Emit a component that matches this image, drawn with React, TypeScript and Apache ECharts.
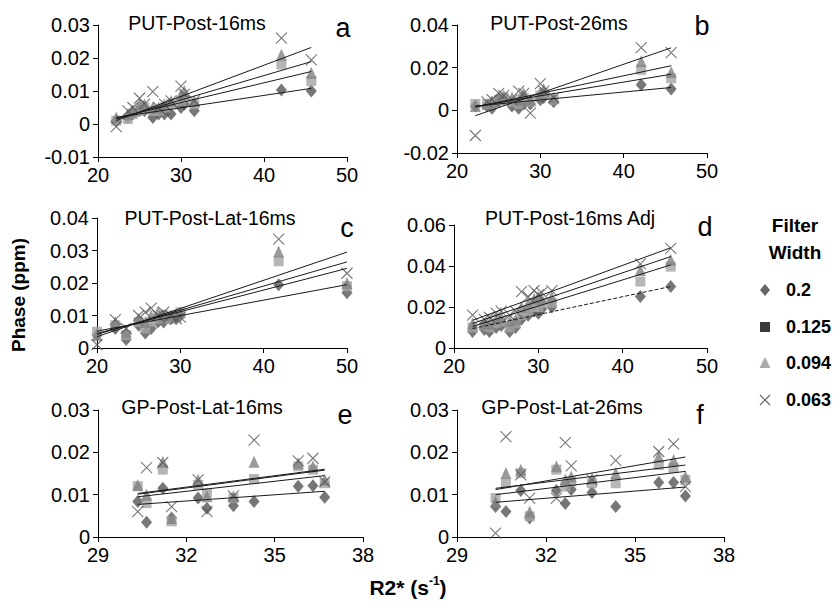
import React, { useEffect, useRef } from "react";
import * as echarts from "echarts";

const FONT = '"Liberation Sans", Arial, Helvetica, sans-serif';

// ---------- data ----------
const seriesNames = ["0.2", "0.125", "0.094", "0.063"];
const panelTitles = ["PUT-Post-16ms", "PUT-Post-26ms", "PUT-Post-Lat-16ms", "PUT-Post-16ms Adj", "GP-Post-Lat-16ms", "GP-Post-Lat-26ms"];
const panelLetters = ["a", "b", "c", "d", "e", "f"];

// Panel a
const aX = [22.2, 23.6, 24.2, 25.0, 25.6, 26.6, 27.3, 28.0, 28.8, 30.0, 30.4, 31.6, 42.1, 45.7];
const aDiamond = [0.001, 0.002, 0.003, 0.004, 0.004, 0.002, 0.003, 0.003, 0.003, 0.005, 0.006, 0.004, 0.0103, 0.0100];
const aSquare = [0.001, 0.0015, 0.003, 0.004, 0.005, 0.004, 0.004, 0.005, 0.006, 0.007, 0.008, 0.006, 0.018, 0.013];
const aTriangle = [0.002, 0.003, 0.004, 0.006, 0.006, 0.005, 0.005, 0.006, 0.007, 0.009, 0.010, 0.007, 0.021, 0.0155];
const aCross = [-0.0008, 0.004, 0.005, 0.0078, 0.006, 0.0098, 0.005, 0.006, 0.007, 0.0115, 0.009, 0.007, 0.026, 0.0194];
const aTrend = [[22.2, 0.0020, 45.7, 0.0108], [22.2, 0.0018, 45.7, 0.0159], [22.2, 0.0015, 45.7, 0.0189], [22.2, 0.0010, 45.7, 0.0232]];

// Panel b
const bX = [22.2, 23.6, 24.2, 25.0, 25.6, 26.6, 27.4, 28.0, 28.8, 30.0, 30.4, 31.6, 42.1, 45.7];
const bDiamond = [0.002, 0.002, 0.001, 0.004, 0.005, 0.002, 0.001, 0.003, 0.003, 0.005, 0.006, 0.004, 0.012, 0.010];
const bSquare = [0.003, 0.003, 0.003, 0.005, 0.006, 0.004, 0.003, 0.006, 0.004, 0.007, 0.008, 0.005, 0.019, 0.015];
const bTriangle = [0.002, 0.003, 0.004, 0.006, 0.007, 0.006, 0.005, 0.008, 0.005, 0.008, 0.010, 0.006, 0.023, 0.018];
const bCross = [-0.0118, 0.004, 0.005, 0.008, 0.007, 0.005, 0.009, 0.008, -0.0013, 0.0125, 0.009, 0.006, 0.0294, 0.027];
const bTrend = [[22.2, 0.0020, 45.7, 0.0107], [22.2, 0.0018, 45.7, 0.0169], [22.2, 0.0015, 45.7, 0.0209], [22.2, -0.0025, 45.7, 0.0293]];

// Panel c
const cX = [20.0, 22.2, 23.5, 25.0, 25.8, 26.5, 27.3, 28.0, 28.8, 29.5, 30.0, 41.8, 50.0];
const cDiamond = [0.004, 0.006, 0.0026, 0.007, 0.0046, 0.006, 0.008, 0.008, 0.009, 0.009, 0.010, 0.0195, 0.017];
const cSquare = [0.005, 0.007, 0.004, 0.008, 0.006, 0.008, 0.009, 0.010, 0.009, 0.010, 0.011, 0.0267, 0.019];
const cTriangle = [0.004, 0.008, 0.005, 0.009, 0.008, 0.010, 0.011, 0.010, 0.010, 0.010, 0.011, 0.0297, 0.020];
const cCross = [0.001, 0.0087, 0.006, 0.010, 0.011, 0.0123, 0.010, 0.011, 0.010, 0.009, 0.0095, 0.0335, 0.023];
const cTrend = [[20, 0.0052, 50, 0.0195], [20, 0.0045, 50, 0.0245], [20, 0.0042, 50, 0.0265], [20, 0.0035, 50, 0.0295]];

// Panel d
const dX = [22.2, 23.6, 24.2, 25.0, 25.6, 26.6, 27.3, 28.0, 28.8, 29.5, 30.0, 30.4, 31.6, 42.1, 45.7];
const dDiamond = [0.008, 0.009, 0.008, 0.010, 0.011, 0.008, 0.010, 0.014, 0.016, 0.018, 0.017, 0.019, 0.020, 0.0251, 0.030];
const dSquare = [0.010, 0.011, 0.010, 0.012, 0.013, 0.010, 0.012, 0.016, 0.018, 0.020, 0.020, 0.022, 0.022, 0.0324, 0.0397];
const dTriangle = [0.012, 0.012, 0.012, 0.014, 0.015, 0.013, 0.014, 0.020, 0.022, 0.024, 0.025, 0.024, 0.025, 0.038, 0.043];
const dCross = [0.016, 0.014, 0.015, 0.017, 0.018, 0.016, 0.018, 0.0275, 0.025, 0.028, 0.026, 0.027, 0.028, 0.041, 0.0486];
const dTrend = [[22.2, 0.0095, 45.7, 0.0300], [22.2, 0.0105, 45.7, 0.0405], [22.2, 0.0120, 45.7, 0.0446], [22.2, 0.0135, 45.7, 0.0489]];

// Panel e
const eX = [30.35, 30.65, 31.2, 31.5, 32.4, 32.7, 33.6, 34.3, 35.8, 36.3, 36.7];
const eDiamond = [0.0084, 0.0035, 0.0115, 0.0045, 0.0092, 0.0068, 0.0074, 0.0084, 0.0120, 0.0121, 0.0094];
const eSquare = [0.0120, 0.0080, 0.0159, 0.0037, 0.0123, 0.0104, 0.0092, 0.0137, 0.0167, 0.0159, 0.0127];
const eTriangle = [0.0123, 0.0100, 0.0178, 0.0045, 0.0135, 0.0096, 0.0096, 0.0178, 0.0174, 0.0167, 0.0135];
const eCross = [0.0060, 0.0164, 0.0176, 0.0072, 0.0135, 0.0060, 0.0097, 0.0229, 0.0180, 0.0186, 0.0130];
const eTrend = [[30.35, 0.0077, 36.7, 0.0108], [30.35, 0.0095, 36.7, 0.0145], [30.35, 0.0101, 36.7, 0.0158], [30.35, 0.0103, 36.7, 0.0160]];

// Panel f
const fX = [30.3, 30.65, 31.15, 31.45, 32.35, 32.65, 32.85, 33.55, 34.35, 35.8, 36.3, 36.7];
const fDiamond = [0.0072, 0.0060, 0.0110, 0.0045, 0.0110, 0.0079, 0.0112, 0.0105, 0.0072, 0.0129, 0.0129, 0.0097];
const fSquare = [0.0092, 0.0127, 0.0151, 0.0049, 0.0159, 0.0119, 0.0131, 0.0127, 0.0127, 0.0170, 0.0163, 0.0135];
const fTriangle = [0.0084, 0.0151, 0.0159, 0.0060, 0.0167, 0.0135, 0.0143, 0.0139, 0.0151, 0.0190, 0.0182, 0.0143];
const fCross = [0.0009, 0.0237, 0.0147, 0.0092, 0.0092, 0.0223, 0.0168, 0.0135, 0.0181, 0.0202, 0.0220, 0.0119];
const fTrend = [[30.3, 0.0082, 36.7, 0.0118], [30.3, 0.0100, 36.7, 0.0155], [30.3, 0.0115, 36.7, 0.0170], [30.3, 0.0112, 36.7, 0.0189]];

// axis ranges
const xRanges = [[20, 50, 10], [20, 50, 10], [20, 50, 10], [20, 50, 10], [29, 38, 3], [29, 38, 3]];
const yRanges = [[-0.01, 0.03, 0.01], [-0.02, 0.04, 0.02], [0, 0.04, 0.01], [0, 0.06, 0.02], [0, 0.03, 0.01], [0, 0.03, 0.01]];

const panelData = [
  { x: aX, ys: [aDiamond, aSquare, aTriangle, aCross], trend: aTrend },
  { x: bX, ys: [bDiamond, bSquare, bTriangle, bCross], trend: bTrend },
  { x: cX, ys: [cDiamond, cSquare, cTriangle, cCross], trend: cTrend },
  { x: dX, ys: [dDiamond, dSquare, dTriangle, dCross], trend: dTrend },
  { x: eX, ys: [eDiamond, eSquare, eTriangle, eCross], trend: eTrend },
  { x: fX, ys: [fDiamond, fSquare, fTriangle, fCross], trend: fTrend },
];

// ---------- layout / style ----------
const grids = [
  { left: 98, top: 25, width: 249, height: 132 },
  { left: 457, top: 25, width: 250, height: 128 },
  { left: 97, top: 218, width: 250, height: 130 },
  { left: 454, top: 225, width: 253, height: 123 },
  { left: 98, top: 410, width: 265, height: 127 },
  { left: 457, top: 410, width: 267, height: 127 },
];
const titlePos = [[197, 23], [559, 23], [210, 218], [570, 218], [202, 407], [562, 407]];
const letterPos = [[343, 28], [702, 26], [347, 228], [705, 227], [345, 415], [700, 415]];

const markerStyles = [
  { symbol: "diamond", symbolSize: [11, 13], itemStyle: { color: "#555555" } },
  { symbol: "rect", symbolSize: [10, 10], itemStyle: { color: "#a4a4a4" } },
  { symbol: "triangle", symbolSize: [11, 12], itemStyle: { color: "#828282" } },
  {
    symbol: "path://M0,0L10,10M10,0L0,10",
    symbolSize: [11, 11],
    itemStyle: { color: "rgba(0,0,0,0)", borderColor: "#555555", borderWidth: 1.1 },
  },
];

function fmt(v: number) {
  const r = Math.round(v * 1000) / 1000;
  return String(r);
}

function buildOption() {
  const xAxis: any[] = [];
  const yAxis: any[] = [];
  const series: any[] = [];
  const graphic: any[] = [];

  grids.forEach((g, i) => {
    const [xmin, xmax, xint] = xRanges[i];
    const [ymin, ymax, yint] = yRanges[i];
    xAxis.push({
      type: "value",
      gridIndex: i,
      min: xmin,
      max: xmax,
      interval: xint,
      splitLine: { show: false },
      axisLine: { onZero: false, lineStyle: { color: "#000", width: 1 } },
      axisTick: { show: true, length: 5, lineStyle: { color: "#000" } },
      axisLabel: { color: "#000", fontSize: 20, fontFamily: FONT, margin: 8 },
    });
    yAxis.push({
      type: "value",
      gridIndex: i,
      min: ymin,
      max: ymax,
      interval: yint,
      splitLine: { show: false },
      axisLine: { show: true, onZero: false, lineStyle: { color: "#000", width: 1 } },
      axisTick: { show: true, length: 5, lineStyle: { color: "#000" } },
      axisLabel: { color: "#000", fontSize: 20, fontFamily: FONT, margin: 8, formatter: fmt },
    });

    const pd = panelData[i];
    pd.ys.forEach((ys, k) => {
      series.push({
        type: "scatter",
        name: seriesNames[k],
        xAxisIndex: i,
        yAxisIndex: i,
        data: pd.x.map((xv, j) => [xv, ys[j]]),
        symbol: markerStyles[k].symbol,
        symbolSize: markerStyles[k].symbolSize,
        itemStyle: markerStyles[k].itemStyle,
        clip: false,
        z: 2 + k,
      });
    });
    pd.trend.forEach((t, k) => {
      series.push({
        type: "line",
        xAxisIndex: i,
        yAxisIndex: i,
        data: [[t[0], t[1]], [t[2], t[3]]],
        showSymbol: false,
        symbol: "none",
        lineStyle: { color: "#1a1a1a", width: 1, type: i === 3 && k === 0 ? [4, 2] : "solid" },
        z: 10,
        silent: true,
      });
    });

    graphic.push({
      type: "text",
      x: titlePos[i][0],
      y: titlePos[i][1],
      style: {
        text: panelTitles[i],
        fill: "#000",
        font: `19.5px ${FONT}`,
        textAlign: "center",
        textVerticalAlign: "middle",
      },
    });
    graphic.push({
      type: "text",
      x: letterPos[i][0],
      y: letterPos[i][1],
      style: {
        text: panelLetters[i],
        fill: "#000",
        font: `27px ${FONT}`,
        textAlign: "center",
        textVerticalAlign: "middle",
      },
    });
  });

  // axis titles
  graphic.push({
    type: "text",
    x: 18,
    y: 295,
    rotation: Math.PI / 2,
    style: {
      text: "Phase (ppm)",
      fill: "#000",
      font: `bold 19px ${FONT}`,
      textAlign: "center",
      textVerticalAlign: "middle",
    },
  });
  graphic.push({
    type: "text",
    x: 408,
    y: 587,
    style: {
      text: "{a|R2* (s}{s|-1}{a|)}",
      textAlign: "center",
      textVerticalAlign: "middle",
      rich: {
        a: { font: `bold 21px ${FONT}`, fill: "#000", lineHeight: 24 },
        s: { font: `bold 12px ${FONT}`, fill: "#000", verticalAlign: "top", lineHeight: 24, padding: [0, 0, 9, 0] },
      },
    },
  });

  // legend
  const lx = 765;
  const legendY = [290, 327, 363, 400];
  graphic.push({
    type: "text",
    x: 795,
    y: 225,
    style: { text: "Filter", fill: "#000", font: `bold 19px ${FONT}`, textAlign: "center", textVerticalAlign: "middle" },
  });
  graphic.push({
    type: "text",
    x: 795,
    y: 252,
    style: { text: "Width", fill: "#000", font: `bold 19px ${FONT}`, textAlign: "center", textVerticalAlign: "middle" },
  });
  graphic.push({
    type: "polygon",
    shape: { points: [[lx, legendY[0] - 6], [lx + 5, legendY[0]], [lx, legendY[0] + 6], [lx - 5, legendY[0]]] },
    style: { fill: "#666" },
  });
  graphic.push({
    type: "rect",
    shape: { x: lx - 5, y: legendY[1] - 5, width: 10, height: 10 },
    style: { fill: "#3a3a3a" },
  });
  graphic.push({
    type: "polygon",
    shape: { points: [[lx, legendY[2] - 6], [lx + 5.5, legendY[2] + 5], [lx - 5.5, legendY[2] + 5]] },
    style: { fill: "#aaa" },
  });
  graphic.push({
    type: "line",
    shape: { x1: lx - 5, y1: legendY[3] - 5, x2: lx + 5, y2: legendY[3] + 5 },
    style: { stroke: "#666", lineWidth: 1.2 },
  });
  graphic.push({
    type: "line",
    shape: { x1: lx - 5, y1: legendY[3] + 5, x2: lx + 5, y2: legendY[3] - 5 },
    style: { stroke: "#666", lineWidth: 1.2 },
  });
  seriesNames.forEach((n, k) => {
    graphic.push({
      type: "text",
      x: 786,
      y: legendY[k],
      style: { text: n, fill: "#000", font: `bold 18px ${FONT}`, textAlign: "left", textVerticalAlign: "middle" },
    });
  });

  return {
    animation: false,
    backgroundColor: "#ffffff",
    grid: grids.map((g) => ({ ...g, containLabel: false })),
    xAxis,
    yAxis,
    series,
    graphic,
  };
}

export default function App() {
  const ref = useRef<HTMLDivElement>(null);
  useEffect(() => {
    if (!ref.current) return;
    const chart = echarts.init(ref.current, undefined, { renderer: "svg" });
    chart.setOption(buildOption() as any);
    return () => chart.dispose();
  }, []);
  return (
    <div
      ref={ref}
      style={{ position: "fixed", left: 0, top: 0, width: 840, height: 606, background: "#fff" }}
    />
  );
}
